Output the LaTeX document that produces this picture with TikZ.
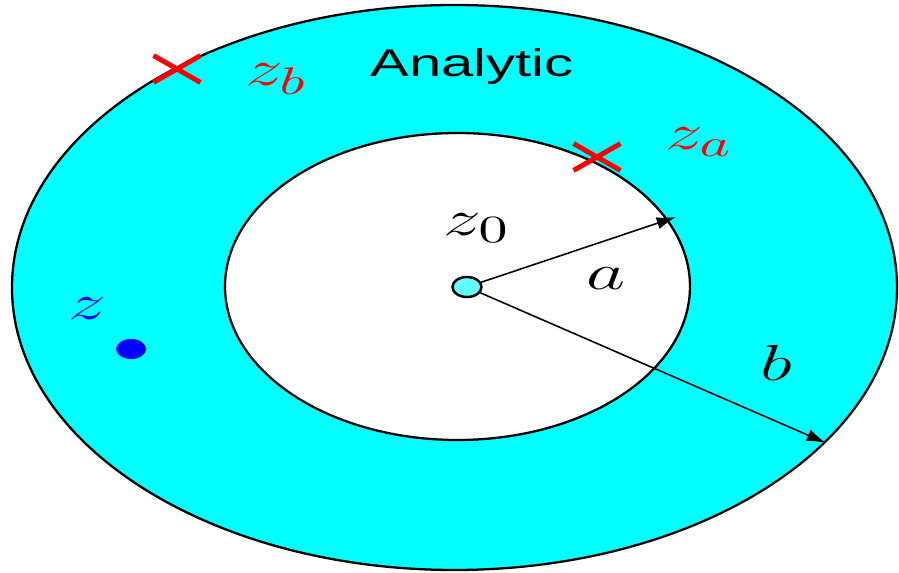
\documentclass[tikz,border=0pt]{standalone}
\usepackage{fontspec}
\usetikzlibrary{shapes.geometric,shapes.misc,arrows.meta}
\newfontfamily\labelfont{Liberation Sans}
\DeclareMathSizes{14}{14}{11}{9}
\newcommand{\widetext}[1]{\scalebox{1.5}[1]{#1}}
\definecolor{ringfill}{RGB}{0,255,255}
\definecolor{centrefill}{RGB}{100,255,255}

\begin{document}
\begin{tikzpicture}[
x=0.01cm, y=-0.01cm,
every node/.style={inner sep=0pt, font=\fontsize{14}{16}\selectfont},
crossmark/.style={draw=red, cross out, line width=1.4pt, minimum width=0.42cm, minimum height=0.22cm},
radius line/.style={-{Latex[length=5.5pt, width=3.5pt]}, line width=0.45pt}
]
\useasboundingbox (0,0) rectangle (899,573);

\draw[line width=0.65pt, fill=ringfill] (454.5,287.5) ellipse [x radius=442.5, y radius=282.5];
\draw[line width=0.65pt, fill=white] (457.5,286.5) ellipse [x radius=232.5, y radius=153.5];

\node[draw, ellipse, fill=centrefill, line width=0.7pt, minimum width=0.29cm, minimum height=0.2cm] (c) at (467,287) {};
\coordinate (ta) at (676,217);
\coordinate (tb) at (826,443);

\draw[radius line] (c) -- (ta);
\draw[radius line] (c) -- (tb);

\node (z0) at (477,228) {\widetext{$z_0$}};
\node (a) at (606,279) {\widetext{$a$}};
\node (b) at (776,363) {\widetext{$b$}};

\node[crossmark] (xb) at (177,69) {};
\node[text=red] (zb) at (276,79) {\widetext{$z_b$}};
\node[crossmark] (xa) at (597,157) {};
\node[text=red] (za) at (699,142) {\widetext{$z_a$}};

\node[text=blue] (z) at (87,309) {\widetext{$z$}};
\node[ellipse, fill=blue, minimum width=0.3cm, minimum height=0.2cm] (dot) at (131,349) {};

\node[anchor=base, font=\labelfont\fontsize{11}{13}\selectfont] (an) at (472,77) {\widetext{Analytic}};
\end{tikzpicture}
\end{document}
